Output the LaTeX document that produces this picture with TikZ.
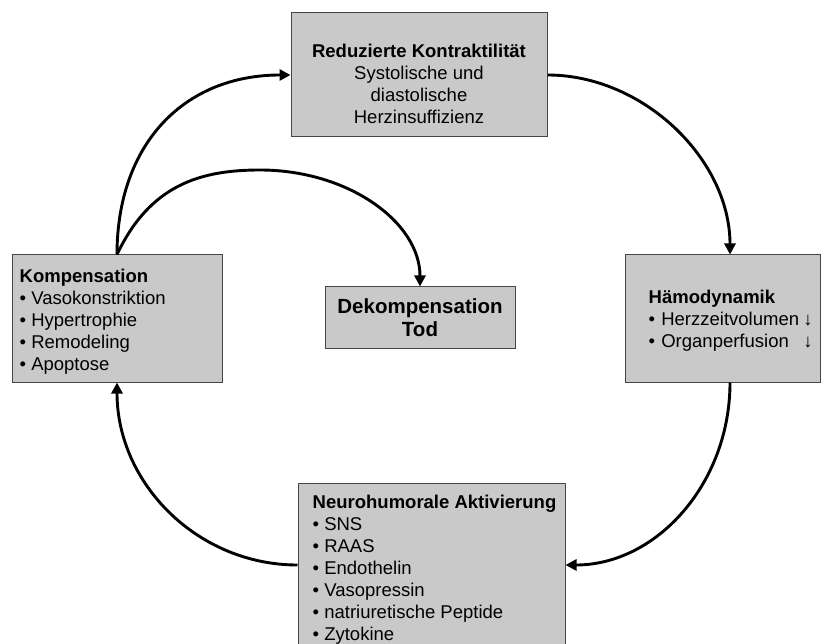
\documentclass[tikz,border=0pt]{standalone}
\usepackage{fontspec}
\setmainfont{Liberation Sans}
\usetikzlibrary{arrows.meta}
\definecolor{boxgray}{RGB}{201,201,201}
\definecolor{boxline}{RGB}{70,70,70}
\begin{document}
\begin{tikzpicture}[x=1pt,y=-1pt,
  box/.style={draw=boxline, line width=1pt, fill=boxgray, inner sep=0pt},
  txt/.style={inner sep=0pt, font=\fontsize{18.5}{22}\selectfont, align=left},
  flow/.style={line width=2.9pt, -{Triangle[length=11pt,width=11pt]}}]
\useasboundingbox (0,0) rectangle (822,644);
% boxes
\node[box, minimum width=256pt, minimum height=124pt] (top) at (419,75) {};
\node[box, minimum width=210pt, minimum height=127pt] (komp) at (117,318.5) {};
\node[box, minimum width=190pt, minimum height=61pt] (dek) at (420,317.5) {};
\node[box, minimum width=195pt, minimum height=127pt] (ham) at (722.5,318.5) {};
\node[box, minimum width=267pt, minimum height=164pt] (neuro) at (431.5,565) {};
% texts
\node[txt, align=center] (toptext) at (419,84)
  {\textbf{Reduzierte Kontraktilität}\\Systolische und\\diastolische\\Herzinsuffizienz};
\node[txt, anchor=west] (komptext) at ([xshift=8pt,yshift=-3pt]komp.west)
  {\textbf{Kompensation}\\• Vasokonstriktion\\• Hypertrophie\\• Remodeling\\• Apoptose};
\node[txt, align=center, font=\fontsize{20.5}{23}\selectfont\bfseries] (dektext) at (420,318)
  {Dekompensation\\Tod};
\node[txt, anchor=west, text width=164pt] (hamtext) at ([xshift=24pt,yshift=-2pt]ham.west)
  {\textbf{Hämodynamik}\\• Herzzeitvolumen\hfill↓\\• Organperfusion\hfill↓};
\node[txt, anchor=west] (neurotext) at ([xshift=15pt,yshift=-5pt]neuro.west)
  {\textbf{Neurohumorale Aktivierung}\\• SNS\\• RAAS\\• Endothelin\\• Vasopressin\\• natriuretische Peptide\\• Zytokine};
% connectors
\coordinate (peak) at (260,170);
\coordinate (hamin) at ([xshift=7.5pt]ham.north);
\coordinate (hamout) at ([xshift=7.5pt]ham.south);
\draw[flow] (komp.north) .. controls +(0,-110) and +(-107,0) .. (top.west);
\draw[flow] (komp.north) .. controls (150,185) and (200,170) .. (peak)
  .. controls (348,170) and (420,222) .. (dek.north);
\draw[flow] (top.east) .. controls +(96,0) and +(0,-95) .. (hamin);
\draw[flow] (hamout) .. controls +(0,101) and +(91,0) .. (neuro.east);
\draw[flow] (neuro.west) .. controls +(-100,0) and +(0,101) .. (komp.south);
\end{tikzpicture}
\end{document}
